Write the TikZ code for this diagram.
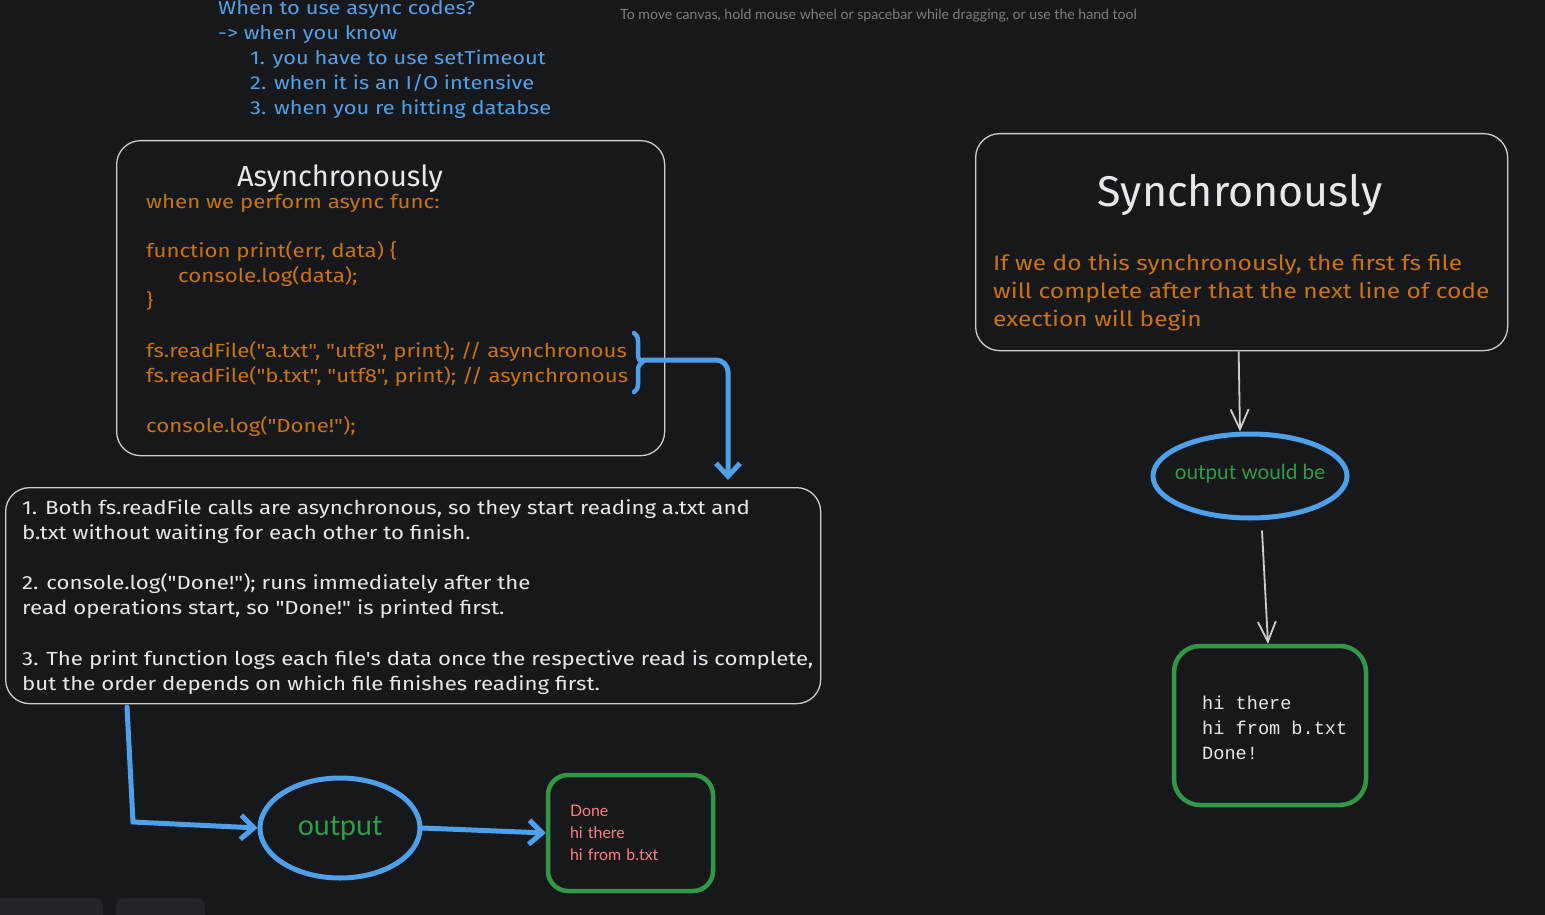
\documentclass[tikz,border=0pt]{standalone}
\usepackage{fontspec}
\setmainfont{Fira Sans}
\newfontfamily\hand[FakeStretch=1.17]{Fira Sans}
\newfontfamily\titlef{Fira Sans}
\newfontfamily\uifont{Lato}
\newfontfamily\monof{Liberation Mono}
\usetikzlibrary{shapes.geometric,arrows.meta,decorations.pathreplacing}
\definecolor{bg}{RGB}{23,24,27}
\definecolor{bluet}{RGB}{82,160,230}
\definecolor{blues}{RGB}{78,160,235}
\definecolor{orangt}{RGB}{200,115,15}
\definecolor{whitet}{RGB}{232,232,232}
\definecolor{framec}{RGB}{205,205,205}
\definecolor{greent}{RGB}{47,158,68}
\definecolor{greens}{RGB}{50,152,70}
\definecolor{salmon}{RGB}{255,125,125}
\definecolor{hintc}{RGB}{125,125,130}
\definecolor{uibg}{RGB}{36,36,43}
\newcommand\qq{\symbol{34}}
\tikzset{
  x=1pt,y=-1pt,
  frame/.style={draw=framec,line width=1.3pt,rounded corners=24pt,inner sep=0pt,anchor=north west},
  bluetxt/.style={text=bluet,font=\hand\fontsize{18.7}{25}\selectfont,anchor=base west,inner sep=0pt},
  orgtxt/.style={text=orangt,font=\hand\fontsize{19}{25}\selectfont,anchor=base west,inner sep=0pt},
  whttxt/.style={text=whitet,font=\hand\fontsize{19}{25}\selectfont,anchor=base west,inner sep=0pt},
  synctxt/.style={text=orangt,font=\hand\fontsize{21}{28}\selectfont,anchor=base west,inner sep=0pt},
  blueell/.style={ellipse,draw=blues,line width=5pt,inner sep=0pt},
  greenbox/.style={draw=greens,line width=4.5pt,inner sep=0pt,align=left},
  bluearrow/.style={draw=blues,line width=5pt,line cap=round,-{Straight Barb[length=13pt,width=24pt]}},
  grayarrow/.style={draw=framec,line width=1.8pt,-{Straight Barb[length=20pt,width=18pt]}},
}
\begin{document}
\begin{tikzpicture}
\useasboundingbox (0,0) rectangle (1545,915);
\fill[bg] (0,0) rectangle (1545,915);
% UI remnants
\fill[uibg] (-10,915) [rounded corners=8pt]-- (-10,898) -- (103,898) [sharp corners]-- (103,915) -- cycle;
\fill[uibg] (116,915) [rounded corners=8pt]-- (116,898) -- (205,898) [sharp corners]-- (205,915) -- cycle;
% hint
\node[text=hintc,font=\uifont\fontsize{14.1}{16}\selectfont,anchor=base west,inner sep=0pt] (hint) at (620,20) {To move canvas, hold mouse wheel or spacebar while dragging, or use the hand tool};
% top notes
\node[bluetxt] (q0) at (218,15) {When to use async codes?};
\node[bluetxt] (q1) at (218,40) {-> when you know};
\node[bluetxt] (q2) at (250,65) {1. you have to use setTimeout};
\node[bluetxt] (q3) at (250,90) {2. when it is an I/O intensive};
\node[bluetxt] (q4) at (250,115) {3. when you re hitting databse};
% async box
\node[frame,minimum width=548pt,minimum height=315pt] (asyncbox) at (116,140) {};
\node[text=whitet,font=\titlef\fontsize{29}{34}\selectfont,anchor=base,inner sep=0pt] (asynct) at (340,186) {Asynchronously};
\node[orgtxt] (a0) at (146,208) {when we perform async func:};
\node[orgtxt] (a1) at (146,257) {function print(err, data) \{};
\node[orgtxt] (a2) at (178,282) {console.log(data);};
\node[orgtxt] (a3) at (146,307) {\}};
\node[orgtxt] (a4) at (146,357) {fs.readFile(\qq a.txt\qq, \qq utf8\qq, print); // asynchronous};
\node[orgtxt] (a5) at (146,382) {fs.readFile(\qq b.txt\qq, \qq utf8\qq, print); // asynchronous};
\node[orgtxt] (a6) at (146,432) {console.log(\qq Done!\qq);};
% brace
\draw[blues,line width=4.5pt,line cap=round,decorate,decoration={brace,amplitude=8pt}] (634,333) -- (634,392);
\coordinate (bt) at (643,360);
\coordinate (tgt) at (728,480);
% explanation box
\node[frame,minimum width=815pt,minimum height=216pt] (explbox) at (5,487) {};
\node[whttxt] (e1) at (22,514) {1. Both fs.readFile calls are asynchronous, so they start reading a.txt and};
\node[whttxt] (e2) at (22,539) {b.txt without waiting for each other to finish.};
\node[whttxt] (e3) at (22,589) {2. console.log(\qq Done!\qq); runs immediately after the};
\node[whttxt] (e4) at (22,614) {read operations start, so \qq Done!\qq\ is printed first.};
\node[whttxt] (e5) at (22,665) {3. The print function logs each file's data once the respective read is complete,};
\node[whttxt] (e6) at (22,690) {but the order depends on which file finishes reading first.};
\draw[bluearrow,rounded corners=12pt] (bt) -| (tgt);
% output ellipse and done box
\node[blueell,minimum width=160pt,minimum height=100pt,text=greent,font=\uifont\fontsize{28.5}{30}\selectfont] (outell) at (340,828) {output};
\node[greenbox,rounded corners=20pt,minimum width=165pt,minimum height=116pt,text width=121pt,inner xsep=22pt,text=salmon,font=\uifont\fontsize{15.9}{22}\selectfont] (donebox) at (630.5,833) {Done\\hi there\\hi from b.txt};
\coordinate (bstart) at (127,707);
\coordinate (bcorner) at (133,822);
\draw[bluearrow] (bstart) -- (bcorner) -- (outell.west);
\draw[bluearrow] (outell.east) -- (donebox.west);
% sync side
\node[frame,minimum width=532pt,minimum height=217pt] (syncbox) at (975,133) {};
\node[text=whitet,font=\titlef\fontsize{43}{48}\selectfont,anchor=base,inner sep=0pt] (synct) at (1240,206) {Synchronously};
\node[synctxt] (s1) at (993,270) {If we do this synchronously, the first fs file};
\node[synctxt] (s2) at (993,298) {will complete after that the next line of code};
\node[synctxt] (s3) at (993,326) {exection will begin};
\node[blueell,minimum width=194pt,minimum height=84pt,label={[text=greent,font=\uifont\fontsize{20.7}{22}\selectfont,yshift=2pt]center:output would be}] (outwould) at (1250,476) {};
\node[greenbox,rounded corners=26pt,minimum width=192pt,minimum height=159pt] (syncres) at (1270,725.5) {};
\node[anchor=west,inner sep=0pt,align=left,text=whitet,font=\monof\fontsize{18.6}{25}\selectfont] (syncrestxt) at (1202,728) {\spaceskip=0.6em\relax hi there\\hi from b.txt\\Done!};
\draw[grayarrow] ([xshift=-3pt]syncbox.south) -- ([xshift=-10pt]outwould.north);
\draw[grayarrow] ([xshift=12pt,yshift=-10pt]outwould.south) -- ([xshift=-2pt]syncres.north);
\end{tikzpicture}
\end{document}
